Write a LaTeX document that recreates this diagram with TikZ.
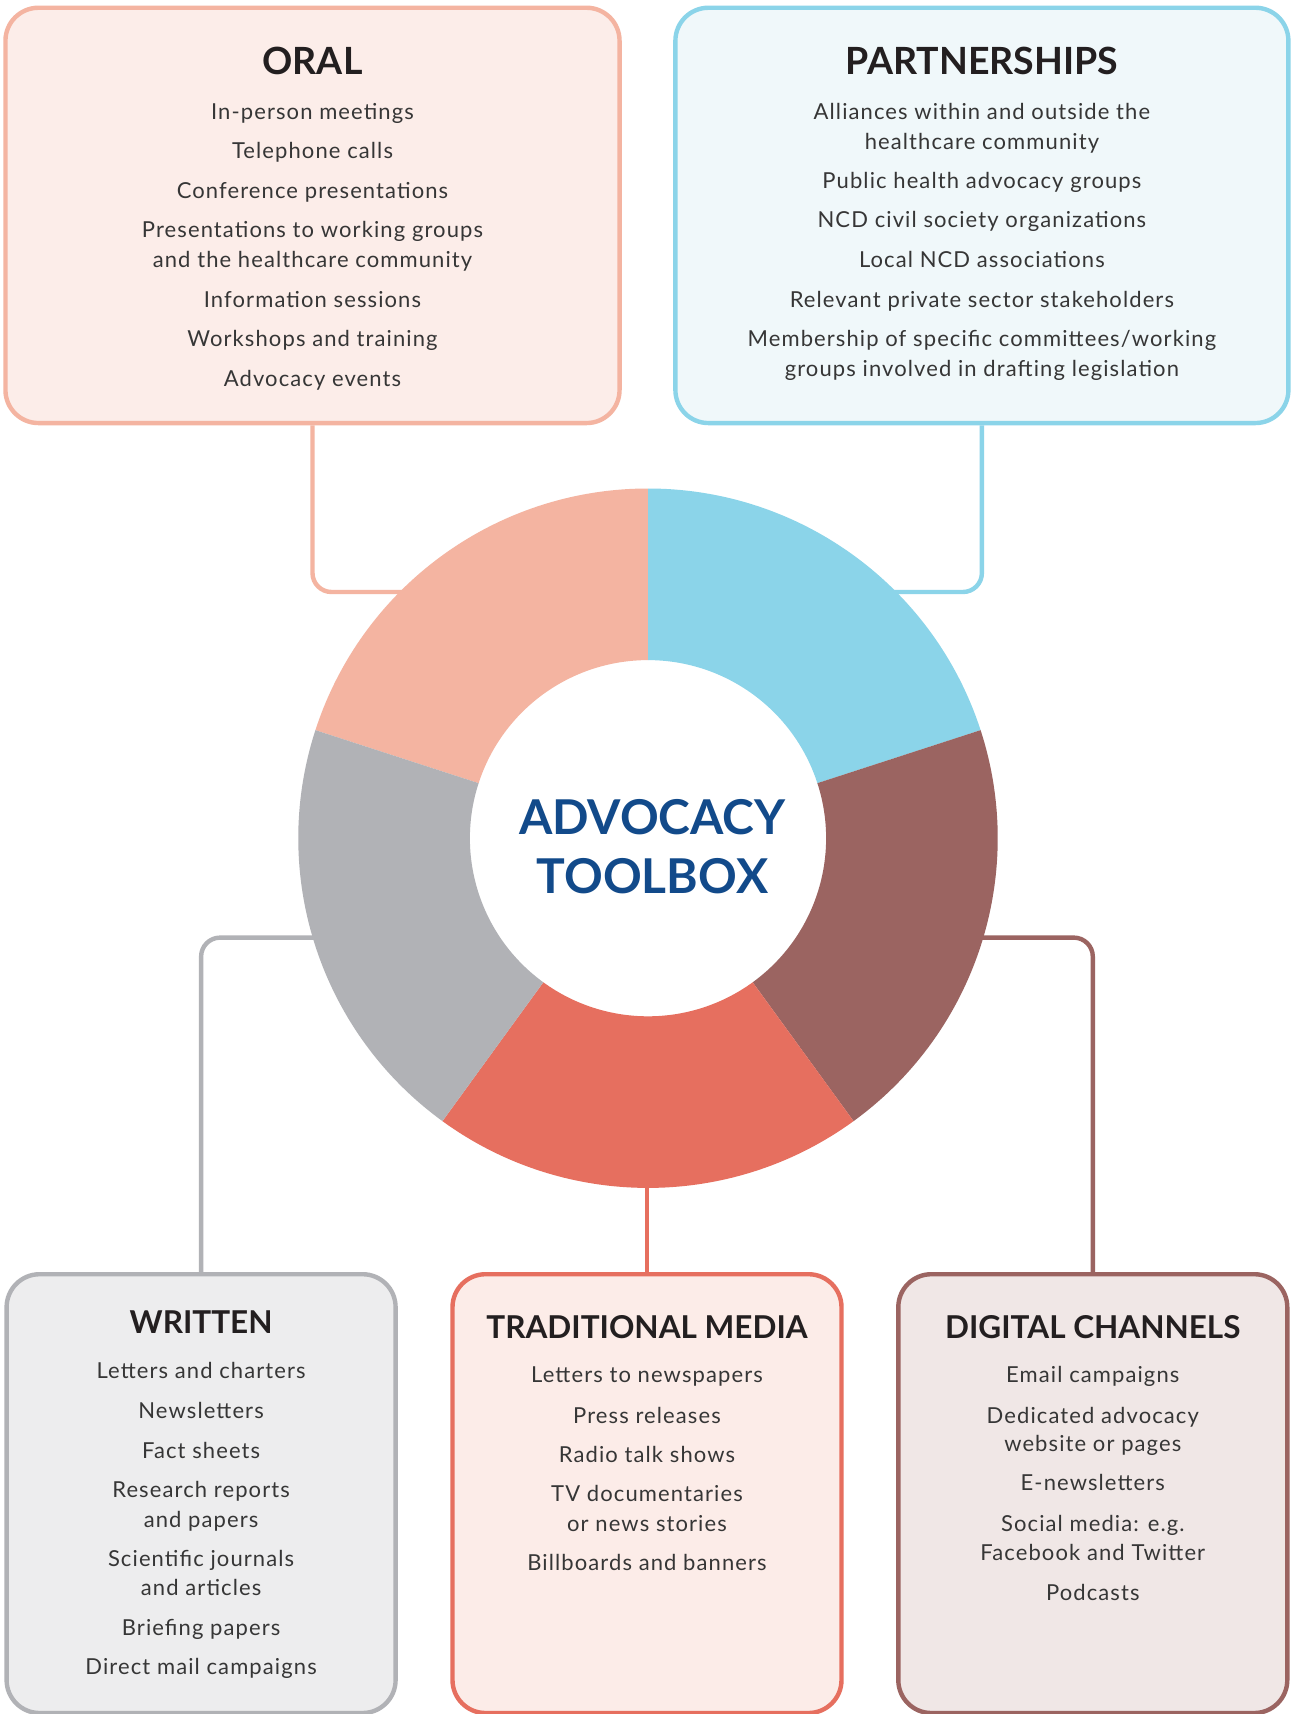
\documentclass[tikz,border=0pt]{standalone}
\usepackage{fontspec}
\setmainfont{Lato}
\newfontfamily\itemfont[LetterSpace=5]{Lato}
\definecolor{oralC}{HTML}{F4B4A1}
\definecolor{oralF}{HTML}{FCEDE9}
\definecolor{partC}{HTML}{8BD4E9}
\definecolor{partF}{HTML}{F0F8FA}
\definecolor{writC}{HTML}{B1B2B6}
\definecolor{writF}{HTML}{EDEDEE}
\definecolor{tradC}{HTML}{E66F5F}
\definecolor{tradF}{HTML}{FCECE8}
\definecolor{digiC}{HTML}{9B6461}
\definecolor{digiF}{HTML}{F0E7E6}
\definecolor{txtC}{HTML}{363636}
\definecolor{ttlC}{HTML}{231F20}
\definecolor{blueC}{HTML}{124A8A}
\begin{document}
\begin{tikzpicture}[x=1pt,y=-1pt,
  box/.style={draw, line width=4.4pt, rounded corners=33pt, inner sep=0pt},
  link/.style={line width=4.4pt, rounded corners=19pt},
  item/.style={anchor=base, inner sep=0pt, text=txtC, font=\itemfont\fontsize{22}{26}\selectfont},
  ttl/.style={anchor=base, inner sep=0pt, text=ttlC, font=\fontsize{37.5}{42}\selectfont\bfseries},
  ttlb/.style={anchor=base, inner sep=0pt, text=ttlC, font=\fontsize{31.5}{36}\selectfont\bfseries},
  hub/.style={anchor=base, inner sep=0pt, text=blueC, font=\fontsize{48}{54}\selectfont\bfseries}]
\useasboundingbox (0,0) rectangle (1295,1714);
\clip (0,0) rectangle (1295,1714);
\fill[white] (0,0) rectangle (1295,1714);
% boxes (nodes)
\node[box, draw=oralC, fill=oralF, minimum width=614.1pt, minimum height=415.3pt] (oral) at (312.5,215.4) {};
\node[box, draw=partC, fill=partF, minimum width=613pt, minimum height=415.3pt] (part) at (981.9,215.4) {};
\node[box, draw=writC, fill=writF, minimum width=389pt, minimum height=438.8pt] (writ) at (201.1,1493.6) {};
\node[box, draw=tradC, fill=tradF, minimum width=389pt, minimum height=438.8pt] (trad) at (647,1493.6) {};
\node[box, draw=digiC, fill=digiF, minimum width=389pt, minimum height=438.8pt] (digi) at (1092.8,1493.6) {};
% connector end points inside the ring
\coordinate (c) at (648,838.2);
\coordinate (eoral) at (480,592);
\coordinate (epart) at (800,592);
\coordinate (ewrit) at (360,937.6);
\coordinate (edigi) at (940,937.6);
\coordinate (etrad) at (647,1150);
\draw[link, oralC] (oral.south) |- (eoral);
\draw[link, partC] (part.south) |- (epart);
\draw[link, writC] (writ.north) |- (ewrit);
\draw[link, digiC] (digi.north) |- (edigi);
\draw[link, tradC] (trad.north) -- (etrad);
% ring
\begin{scope}[shift={(c)}]
\foreach \a/\b/\col in {90/162/oralC, 18/90/partC, -54/18/digiC, -126/-54/tradC, 162/234/writC}
  \fill[\col] (\a:349.7pt) arc[start angle=\a, end angle=\b, radius=349.7pt]
     -- (\b:178.1pt) arc[start angle=\b, end angle=\a, radius=178.1pt] -- cycle;
\end{scope}
\node[hub] (hub1) at (652.4,834) {ADVOCACY};
\node[hub] (hub2) at (652.4,893) {TOOLBOX};
% titles
\node[ttl] (toral) at (312.5,74) {ORAL};
\node[ttl] (tpart) at (981.9,74) {PARTNERSHIPS};
\node[ttlb] (twrit) at (201.1,1333) {WRITTEN};
\node[ttlb] (ttrad) at (647,1338.6) {TRADITIONAL MEDIA};
\node[ttlb] (tdigi) at (1092.8,1338.6) {DIGITAL CHANNELS};
% items
\foreach \y/\t [count=\i] in {119.5/{In-person meetings}, 158.8/{Telephone calls}, 198.1/{Conference presentations}, 237.5/{Presentations to working groups}, 267/{and the healthcare community}, 307.4/{Information sessions}, 346.8/{Workshops and training}, 386.1/{Advocacy events}}
  \node[item] (oi\i) at (312.5,\y) {\t};
\foreach \y/\t [count=\i] in {119.5/{Alliances within and outside the}, 149/{healthcare community}, 188.3/{Public health advocacy groups}, 227.7/{NCD civil society organizations}, 267/{Local NCD associations}, 307.4/{Relevant private sector stakeholders}, 346.8/{Membership of specific committees/working}, 376.3/{groups involved in drafting legislation}}
  \node[item] (pi\i) at (981.9,\y) {\t};
\foreach \y/\t [count=\i] in {1378.4/{Letters and charters}, 1418.8/{Newsletters}, 1458.1/{Fact sheets}, 1497.5/{Research reports}, 1527/{and papers}, 1566.3/{Scientific journals}, 1595.8/{and articles}, 1635.2/{Briefing papers}, 1674.5/{Direct mail campaigns}}
  \node[item] (wi\i) at (201.1,\y) {\t};
\foreach \y/\t [count=\i] in {1382.7/{Letters to newspapers}, 1423.2/{Press releases}, 1462.5/{Radio talk shows}, 1501.9/{TV documentaries}, 1531.4/{or news stories}, 1570.7/{Billboards and banners}}
  \node[item] (ti\i) at (647,\y) {\t};
\foreach \y/\t [count=\i] in {1382.7/{Email campaigns}, 1423.2/{Dedicated advocacy}, 1451.6/{website or pages}, 1490.9/{E-newsletters}, 1531.4/{Social media: e.g.}, 1560.9/{Facebook and Twitter}, 1600.2/{Podcasts}}
  \node[item] (di\i) at (1092.8,\y) {\t};
\end{tikzpicture}
\end{document}
